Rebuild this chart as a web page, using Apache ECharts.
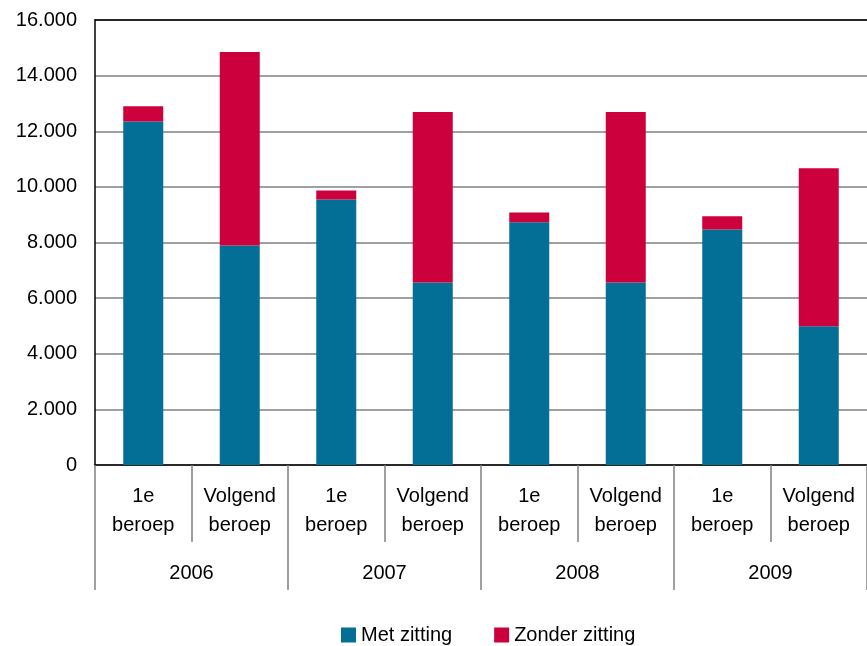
<!DOCTYPE html>
<html>
<head>
<meta charset="utf-8">
<script src="https://cdn.jsdelivr.net/npm/echarts@6/dist/echarts.min.js"></script>
<style>
  html, body { margin: 0; padding: 0; background: #fff; }
  #chart { width: 867px; height: 646px; }
</style>
</head>
<body>
<div id="chart"></div>
<script>
// Beroepszaken per jaar, gesplitst naar behandeling met/zonder zitting
const years = ['2006', '2007', '2008', '2009'];
const categories = ['1e\nberoep', 'Volgend\nberoep', '1e\nberoep', 'Volgend\nberoep',
                    '1e\nberoep', 'Volgend\nberoep', '1e\nberoep', 'Volgend\nberoep'];
const metZitting = [12350, 7890, 9550, 6560, 8730, 6560, 8470, 4990];
const zonderZitting = [550, 6960, 320, 6130, 350, 6130, 470, 5680];
const yTicks = { min: 0, max: 16000, interval: 2000 };

const BLUE = '#036F96';
const RED = '#CC003D';
const FONT = 'Liberation Sans, Arial, sans-serif';

const chart = echarts.init(document.getElementById('chart'), null, { renderer: 'canvas' });

function nl(v) {
  return String(v).replace(/\B(?=(\d{3})+(?!\d))/g, '.');
}

chart.setOption({
  animation: false,
  textStyle: { fontFamily: FONT },
  grid: { left: 95, right: -3, top: 20, bottom: 181, containLabel: false },
  legend: {
    data: ['Met zitting', 'Zonder zitting'],
    left: 336, top: 620,
    icon: 'rect', itemWidth: 15, itemHeight: 15, itemGap: 42,
    textStyle: { fontSize: 20, color: '#000', fontFamily: FONT }
  },
  xAxis: [
    {
      type: 'category',
      data: categories,
      position: 'bottom',
      axisLine: { show: true, lineStyle: { color: '#000', width: 1.5 } },
      axisTick: { show: true, length: 77, lineStyle: { color: '#808080', width: 1.5 } },
      axisLabel: { color: '#000', fontSize: 20, lineHeight: 29, margin: 17, fontFamily: FONT, interval: 0 },
      splitLine: { show: false }
    },
    {
      type: 'category',
      data: years,
      position: 'bottom',
      axisLine: { show: false },
      axisTick: { show: true, length: 125, lineStyle: { color: '#808080', width: 1.5 } },
      axisLabel: { color: '#000', fontSize: 20, margin: 98, fontFamily: FONT, interval: 0 },
      splitLine: { show: false }
    },
    {
      type: 'category',
      data: years,
      position: 'top',
      axisLine: { show: true, lineStyle: { color: '#000', width: 1.5 } },
      axisTick: { show: false },
      axisLabel: { show: false }
    }
  ],
  yAxis: {
    type: 'value',
    min: yTicks.min, max: yTicks.max, interval: yTicks.interval,
    axisLine: { show: true, lineStyle: { color: '#000', width: 1.5 } },
    axisTick: { show: false },
    axisLabel: { color: '#000', fontSize: 20, margin: 18, fontFamily: FONT, formatter: nl },
    splitLine: { show: true, lineStyle: { color: '#808080', width: 1.5 } }
  },
  series: [
    {
      name: 'Met zitting', type: 'bar', stack: 'totaal', xAxisIndex: 0,
      barWidth: 40, itemStyle: { color: BLUE }, data: metZitting
    },
    {
      name: 'Zonder zitting', type: 'bar', stack: 'totaal', xAxisIndex: 0,
      barWidth: 40, itemStyle: { color: RED }, data: zonderZitting
    }
  ]
});
</script>
</body>
</html>
